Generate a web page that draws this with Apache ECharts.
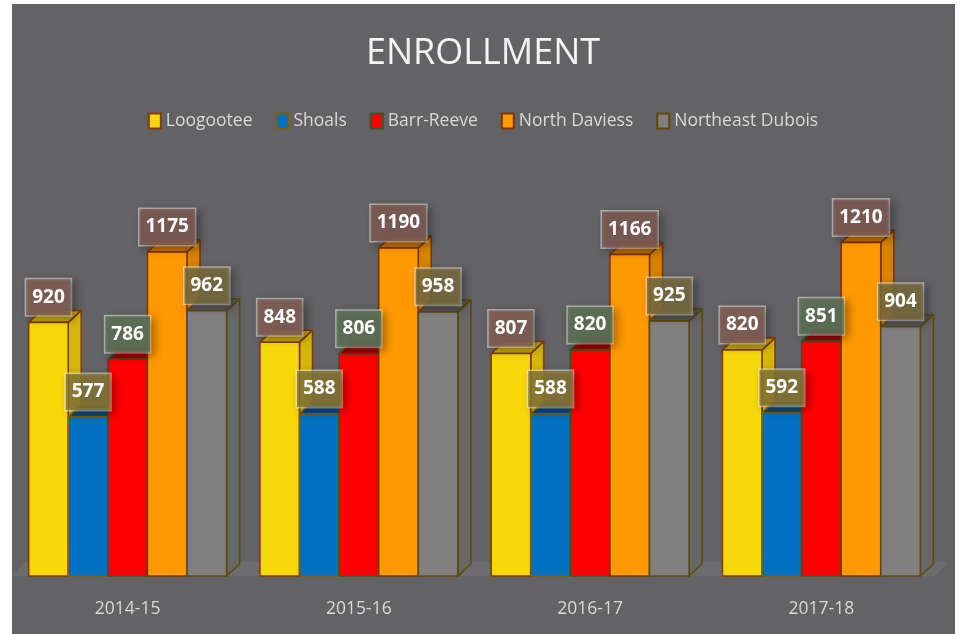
<!DOCTYPE html>
<html>
<head>
<meta charset="utf-8">
<script src="https://cdn.jsdelivr.net/npm/echarts@6/dist/echarts.min.js"></script>
<style>
  html, body { margin: 0; padding: 0; background: #fff; }
  #enrollment { width: 966px; height: 634px; }
</style>
</head>
<body>
<div id="enrollment"></div>
<script>
// data
let years = ['2014-15', '2015-16', '2016-17', '2017-18'];
let schools = ['Loogootee', 'Shoals', 'Barr-Reeve', 'North Daviess', 'Northeast Dubois'];
let loogootee = [920, 848, 807, 820];
let shoals = [577, 588, 588, 592];
let barrReeve = [786, 806, 820, 851];
let northDaviess = [1175, 1190, 1166, 1210];
let northeastDubois = [962, 958, 925, 904];
let schoolValues = [loogootee, shoals, barrReeve, northDaviess, northeastDubois];

// colours: front, top, side, border, label box
let fronts  = ['#f6d70a', '#0070c0', '#ff0000', '#ff9900', '#808080'];
let tops    = ['#c6a80a', '#0b4c7c', '#a00000', '#c27200', '#595959'];
let sides   = ['#d3b70a', '#0a5c98', '#c40000', '#d68300', '#676767'];
let borders = ['#843c0c', '#7f6000', '#385723', '#7a3508', '#5e4a0c'];
let boxes   = ['rgba(128,94,84,0.9)', 'rgba(134,118,52,0.85)', 'rgba(92,112,84,0.9)',
               'rgba(124,90,82,0.9)', 'rgba(118,106,62,0.88)'];

let gridLeft = 12, gridRight = 29, gridTop = 190, gridBottom = 58;
let depthX = 13, depthY = 12;     // 3d offset of the columns
let groupFill = 0.856;            // share of a category used by the 5 columns

function barGeom(si, api) {
    let cat = api.value(0), val = api.value(1);
    let base = api.coord([cat, 0]);
    let top = api.coord([cat, val]);
    let band = api.size([1, 0])[0];
    let bw = band * groupFill / schools.length;
    let x0 = base[0] - band * groupFill / 2 + si * bw;
    return {x0: x0, x1: x0 + bw, yb: base[1], yt: top[1], bw: bw};
}

function barRenderer(si) {
    return function (params, api) {
        let g = barGeom(si, api);
        let line = {stroke: borders[si], lineWidth: 1.6, lineJoin: 'round'};
        return {
            type: 'group',
            children: [
                { // side face
                    type: 'polygon',
                    shape: {points: [[g.x1, g.yt], [g.x1 + depthX, g.yt - depthY], [g.x1 + depthX, g.yb - depthY], [g.x1, g.yb]]},
                    style: Object.assign({fill: sides[si]}, line)
                },
                { // top face
                    type: 'polygon',
                    shape: {points: [[g.x0, g.yt], [g.x0 + depthX, g.yt - depthY], [g.x1 + depthX, g.yt - depthY], [g.x1, g.yt]]},
                    style: Object.assign({fill: tops[si]}, line)
                },
                { // front face
                    type: 'rect',
                    shape: {x: g.x0, y: g.yt, width: g.bw, height: g.yb - g.yt},
                    style: Object.assign({fill: fronts[si]}, line)
                }
            ]
        };
    };
}

function labelRenderer(si) {
    return function (params, api) {
        let g = barGeom(si, api);
        return {
            type: 'text',
            x: (g.x0 + g.x1) / 2,
            y: g.yt - 25,
            style: {
                text: String(api.value(1)),
                fill: '#ffffff',
                font: 'bold 19px "Open Sans", sans-serif',
                align: 'center',
                verticalAlign: 'middle',
                lineHeight: 20,
                padding: [8, 6],
                backgroundColor: boxes[si],
                borderColor: 'rgba(255,255,255,0.5)',
                borderWidth: 1.5,
                shadowColor: 'rgba(0,0,0,0.35)',
                shadowBlur: 8,
                shadowOffsetX: 4,
                shadowOffsetY: 3
            }
        };
    };
}

let series = [];
schools.forEach(function (name, si) {
    series.push({
        name: name,
        type: 'custom',
        z: 2,
        itemStyle: {color: fronts[si], borderColor: borders[si], borderWidth: 2},
        encode: {x: 0, y: 1},
        data: schoolValues[si].map(function (v, i) { return [i, v]; }),
        renderItem: barRenderer(si)
    });
});
schools.forEach(function (name, si) {
    series.push({
        name: name + ' label',
        type: 'custom',
        z: 10,
        silent: true,
        encode: {x: 0, y: 1},
        data: schoolValues[si].map(function (v, i) { return [i, v]; }),
        renderItem: labelRenderer(si)
    });
});

let baseY = 634 - gridBottom;
let enrollmentOption = {
    backgroundColor: '#ffffff',
    animation: false,
    title: {
        text: 'ENROLLMENT',
        left: 'center',
        top: 31,
        textStyle: {color: '#f4f4f4', fontSize: 36, fontWeight: 'normal', fontFamily: 'Open Sans'}
    },
    legend: {
        top: 107,
        left: 'center',
        icon: 'rect',
        itemWidth: 12,
        itemHeight: 15,
        itemGap: 23,
        data: schools.map(function (n, si) {
            return {name: n, itemStyle: {color: fronts[si], borderColor: borders[si], borderWidth: 2}};
        }),
        textStyle: {color: '#d9d9d9', fontSize: 17.5, fontFamily: 'Open Sans'}
    },
    graphic: [
        { // panel
            type: 'rect', z: -10,
            shape: {x: 12, y: 4, width: 943, height: 630},
            style: {fill: '#636365'}
        },
        { // floor
            type: 'polygon', z: -9,
            shape: {points: [[12, baseY], [966 - gridRight - 2, baseY], [966 - gridRight - 2 + depthX, baseY - depthY - 2], [12 + depthX, baseY - depthY - 2]]},
            style: {fill: '#6c6c6e'}
        }
    ],
    grid: {left: gridLeft, right: gridRight, top: gridTop, bottom: gridBottom},
    xAxis: {
        type: 'category',
        data: years,
        axisLine: {show: false},
        axisTick: {show: false},
        axisLabel: {color: '#d9d9d9', fontSize: 17.5, fontFamily: 'Open Sans', margin: 24}
    },
    yAxis: {
        type: 'value',
        min: 0,
        max: 1400,
        show: false
    },
    series: series
};

let enrollmentChart = echarts.init(document.getElementById('enrollment'));
enrollmentChart.setOption(enrollmentOption);
</script>
</body>
</html>
